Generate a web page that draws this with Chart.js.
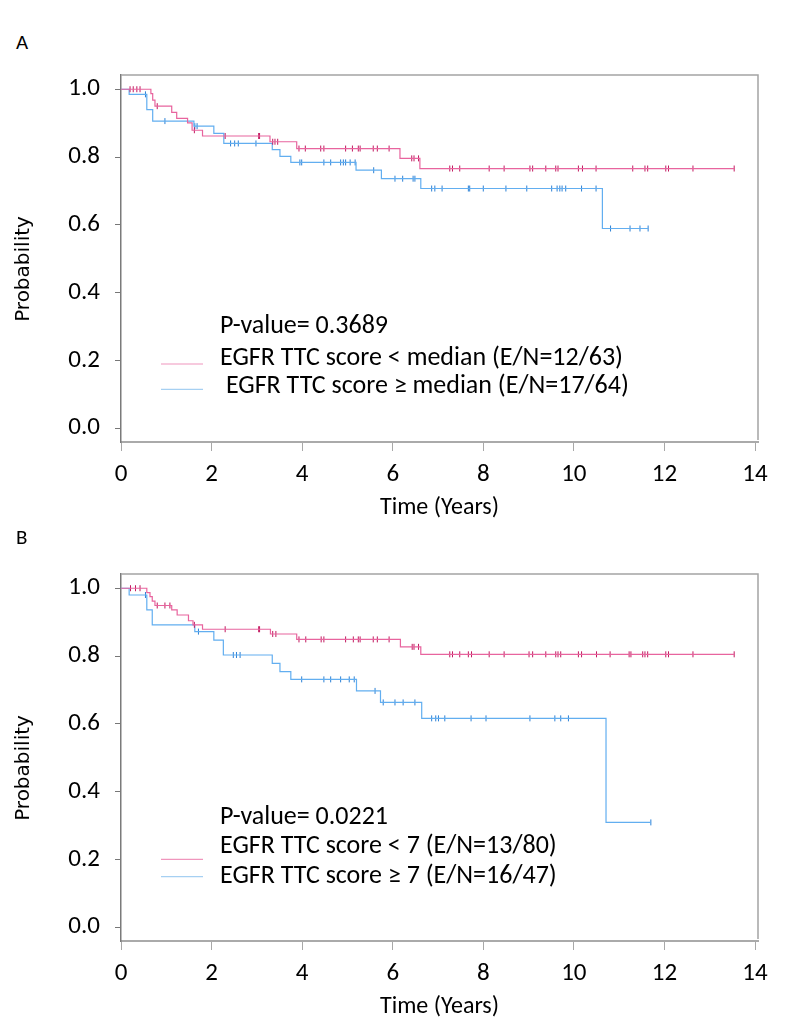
<!DOCTYPE html>
<html>
<head>
<meta charset="utf-8">
<script src="https://cdn.jsdelivr.net/npm/chart.js@4.4.1/dist/chart.umd.min.js"></script>
<style>
  html, body { margin: 0; padding: 0; background: #fff; }
  body { width: 794px; height: 1034px; position: relative; overflow: hidden; }
  .panel-label { position: absolute; left: 16px; font: 21px Carlito, "Liberation Sans Narrow", "Liberation Sans", sans-serif; line-height: 24px; color: #000; }
  canvas { position: absolute; left: 0; }
</style>
</head>
<body>
<div class="panel-label" style="top:30px">A</div>
<canvas id="chartA" width="794" height="525" style="top:0"></canvas>
<div class="panel-label" style="top:525px">B</div>
<canvas id="chartB" width="794" height="525" style="top:499px"></canvas>

<script>
// axis ticks
let xTicks = [0, 2, 4, 6, 8, 10, 12, 14];
let yTicks = [0, 0.2, 0.4, 0.6, 0.8, 1.0];

// panel A, split at median
let pValueA = 'P-value= 0.3689';
let labelsA = ['EGFR TTC score < median (E/N=12/63)', ' EGFR TTC score \u2265 median (E/N=17/64)'];

let eventTimeA1 = [0.66, 0.70, 0.75, 1.12, 1.23, 1.47, 1.57, 1.80, 3.29, 3.88, 6.16, 6.60];
let survA1 = [0.987, 0.968, 0.950, 0.932, 0.914, 0.901, 0.879, 0.862, 0.845, 0.825, 0.796, 0.766];
let censorA1 = [0.20, 0.27, 0.35, 0.42, 0.80, 1.62, 2.30, 3.04, 3.06, 3.35, 3.40, 3.46, 3.93, 4.07,
  4.41, 4.48, 4.96, 5.11, 5.24, 5.28, 5.57, 5.66, 5.92, 6.42, 6.47, 6.57, 7.26, 7.32, 7.48, 8.13,
  8.46, 9.03, 9.09, 9.38, 9.60, 9.65, 10.10, 10.19, 10.49, 11.30, 11.57, 11.63, 12.03, 12.09, 12.63, 13.54];

let eventTimeA2 = [0.18, 0.57, 0.70, 1.61, 2.05, 2.27, 3.34, 3.51, 3.75, 5.19, 5.75, 6.62, 10.63];
let survA2 = [0.985, 0.940, 0.906, 0.891, 0.870, 0.840, 0.822, 0.802, 0.784, 0.761, 0.736, 0.707, 0.589];
let censorA2 = [0.54, 0.97, 1.63, 1.68, 2.42, 2.51, 2.59, 2.98, 3.95, 3.99, 4.48, 4.63, 4.85, 4.91,
  4.96, 5.06, 5.17, 5.58, 6.05, 6.22, 6.45, 6.49, 6.86, 6.93, 7.09, 7.67, 7.70, 8.00, 8.50, 8.96,
  9.51, 9.63, 9.69, 9.74, 9.82, 10.17, 10.49, 10.81, 11.24, 11.46, 11.64];

// panel B, split at 7
let pValueB = 'P-value= 0.0221';
let labelsB = ['EGFR TTC score < 7 (E/N=13/80)', 'EGFR TTC score \u2265 7 (E/N=16/47)'];

let eventTimeB1 = [0.57, 0.64, 0.69, 0.75, 1.12, 1.24, 1.49, 1.59, 1.80, 3.30, 3.88, 6.17, 6.62];
let survB1 = [0.987, 0.975, 0.962, 0.949, 0.936, 0.921, 0.904, 0.892, 0.879, 0.865, 0.849, 0.827, 0.805];
let censorB1 = [0.21, 0.32, 0.42, 0.80, 0.97, 1.08, 1.62, 2.30, 3.04, 3.06, 3.35, 3.42, 3.93, 4.08,
  4.42, 4.48, 4.96, 5.13, 5.24, 5.28, 5.57, 5.66, 5.92, 6.43, 6.47, 6.57, 7.26, 7.32, 7.48, 7.67,
  7.74, 8.13, 8.46, 9.01, 9.09, 9.38, 9.60, 9.65, 9.71, 10.10, 10.17, 10.50, 10.80, 11.22, 11.26,
  11.52, 11.57, 11.63, 12.03, 12.09, 12.63, 13.54];

let eventTimeB2 = [0.18, 0.57, 0.69, 1.63, 2.05, 2.26, 3.34, 3.51, 3.75, 5.20, 5.73, 6.64, 10.71];
let survB2 = [0.980, 0.936, 0.892, 0.872, 0.847, 0.803, 0.778, 0.754, 0.731, 0.697, 0.663, 0.616, 0.309];
let censorB2 = [0.54, 1.71, 2.48, 2.55, 2.63, 3.99, 4.48, 4.63, 4.85, 5.04, 5.15, 5.61, 5.79, 6.05,
  6.23, 6.49, 6.86, 6.95, 7.01, 7.15, 7.73, 8.06, 9.03, 9.58, 9.71, 9.88, 11.70];

// colours
let pinkLine = '#e8649e';
let pinkMark = '#c2185f';
let blueLine = '#62aef0';
let blueMark = '#2b80d6';

let calibri = 'Carlito, "Liberation Sans Narrow", "Liberation Sans", Arial, sans-serif';


// helpers

function survAt(times, surv, t) {
  let s = 1;
  for (let i = 0; i < times.length; i++) {
    if (times[i] <= t) {
      s = surv[i];
    }
  }
  return s;
}

function stepPoints(times, surv, censor) {
  let pts = [{ x: 0, y: 1 }];
  for (let i = 0; i < times.length; i++) {
    pts.push({ x: times[i], y: surv[i] });
  }
  let end = censor[censor.length - 1];
  pts.push({ x: end, y: survAt(times, surv, end) });
  return pts;
}

function censorPoints(times, surv, censor) {
  return censor.map(t => ({ x: t, y: survAt(times, surv, t) }));
}

function curve(times, surv, censor, lineColor, markColor) {
  return [
    {
      type: 'line',
      data: stepPoints(times, surv, censor),
      stepped: true,
      borderColor: lineColor,
      borderWidth: 1.2,
      pointRadius: 0,
      fill: false
    },
    {
      type: 'scatter',
      data: censorPoints(times, surv, censor),
      pointStyle: 'line',
      rotation: 90,
      pointRadius: 3,
      borderColor: markColor,
      borderWidth: 1
    }
  ];
}

// top/right frame, y title and the in-plot legend
let frameAndLegend = {
  id: 'frameAndLegend',
  afterDatasetsDraw(chart, args, opts) {
    let ctx = chart.ctx;
    let a = chart.chartArea;
    ctx.save();
    ctx.strokeStyle = '#a4a4a4';
    ctx.lineWidth = 1.5;
    ctx.beginPath();
    ctx.moveTo(a.left, a.top);
    ctx.lineTo(a.right, a.top);
    ctx.lineTo(a.right, a.bottom - 2);
    ctx.stroke();

    // y axis title sits a bit below the middle of the axis
    ctx.save();
    ctx.translate(24, a.top + 194);
    ctx.rotate(-Math.PI / 2);
    ctx.font = '20px "DejaVu Sans", sans-serif';
    ctx.fillStyle = '#000';
    ctx.textAlign = 'center';
    ctx.textBaseline = 'middle';
    ctx.fillText('Probability', 0, 0);
    ctx.restore();

    ctx.font = '26px ' + calibri;
    ctx.fillStyle = '#000';
    ctx.textBaseline = 'middle';
    ctx.fillText(opts.pValue, a.left + 99, a.top + opts.pY);
    for (let i = 0; i < opts.labels.length; i++) {
      ctx.fillText(opts.labels[i], a.left + 99, a.top + opts.textY[i]);
      ctx.strokeStyle = opts.colors[i];
      ctx.lineWidth = 1.2;
      ctx.beginPath();
      ctx.moveTo(a.left + 40, a.top + opts.lineY[i]);
      ctx.lineTo(a.left + 82, a.top + opts.lineY[i]);
      ctx.stroke();
    }
    ctx.restore();
  }
};

function makeChart(canvasId, datasets, legendOpts) {
  let cfg = {
    data: { datasets: datasets },
    options: {
      responsive: false,
      animation: false,
      events: [],
      layout: { padding: { top: 75, right: 36, left: 0, bottom: 0 } },
      plugins: {
        legend: { display: false },
        tooltip: { enabled: false },
        frameAndLegend: legendOpts
      },
      scales: {
        x: {
          type: 'linear',
          min: 0,
          max: 14.066,
          afterBuildTicks: s => { s.ticks = xTicks.map(v => ({ value: v })); },
          afterFit: s => { s.height = 83; },
          grid: { drawOnChartArea: false, drawTicks: true, tickLength: 9, color: '#a8a8a8' },
          border: { color: '#aaaaaa', width: 2 },
          ticks: { font: { family: calibri, size: 25 }, color: '#000', padding: 9, maxRotation: 0, callback: v => v },
          title: { display: true, text: 'Time (Years)', font: { family: calibri, size: 24 }, color: '#000', padding: { top: 0, bottom: 3 } }
        },
        y: {
          type: 'linear',
          min: -0.041,
          max: 1.042,
          afterBuildTicks: s => { s.ticks = yTicks.map(v => ({ value: v })); },
          afterFit: s => { s.width = 121; },
          grid: { drawOnChartArea: false, drawTicks: true, tickLength: 6, color: '#777777' },
          border: { color: '#7a7a7a', width: 1.5 },
          ticks: { font: { family: calibri, size: 25 }, color: '#000', padding: 15, callback: v => v.toFixed(1) },
          title: { display: false }
        }
      }
    },
    plugins: [frameAndLegend]
  };
  return new Chart(document.getElementById(canvasId), cfg);
}

let datasetsA = curve(eventTimeA1, survA1, censorA1, pinkLine, pinkMark)
  .concat(curve(eventTimeA2, survA2, censorA2, blueLine, blueMark));

let datasetsB = curve(eventTimeB1, survB1, censorB1, pinkLine, pinkMark)
  .concat(curve(eventTimeB2, survB2, censorB2, blueLine, blueMark));

makeChart('chartA', datasetsA, {
  pValue: pValueA,
  labels: labelsA,
  colors: ['#f096bd', '#a6d0f2'],
  pY: 251.7,
  textY: [283, 311.7],
  lineY: [289, 314.3]
});

makeChart('chartB', datasetsB, {
  pValue: pValueB,
  labels: labelsB,
  colors: ['#f096bd', '#a6d0f2'],
  pY: 243.3,
  textY: [272.7, 302],
  lineY: [285.3, 302.7]
});
</script>
</body>
</html>
